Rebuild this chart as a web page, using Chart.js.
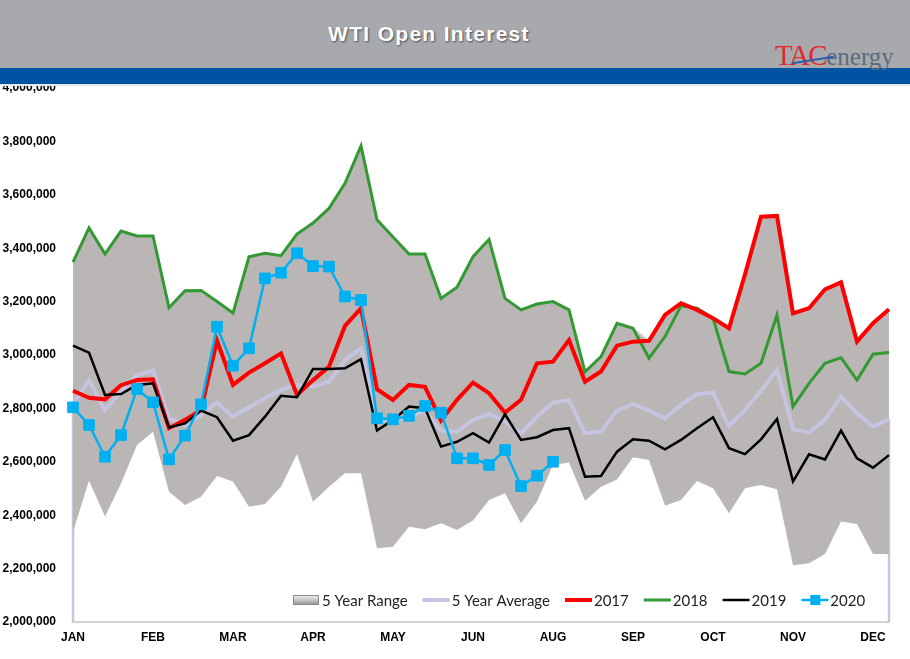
<!DOCTYPE html>
<html>
<head>
<meta charset="utf-8">
<title>WTI Open Interest</title>
<script src="https://cdn.jsdelivr.net/npm/chart.js@4.4.1/dist/chart.umd.min.js"></script>
<style>
    html, body { margin: 0; padding: 0; background: #fff; }
    #wrap { position: relative; width: 910px; height: 659px; overflow: hidden; }
    #chartBox { position: absolute; left: 0; top: 0; width: 910px; height: 659px; }
    .band { position: absolute; left: 0; top: 0; width: 910px; height: 68px; background: #a8a9ad; }
    .blue { position: absolute; left: 0; top: 68px; width: 910px; height: 16px; background: #0053a3; border-bottom: 2px solid #e3e6ec; }
    .title { position: absolute; left: 0; width: 858px; top: 22px; text-align: center; color: #fff;
             font: bold 21px "Liberation Sans", Arial, sans-serif; letter-spacing: 1.3px;
             text-shadow: 1px 1px 2px rgba(0,0,0,0.55); }
    .logo { position: absolute; left: 775px; top: 41px; white-space: nowrap; font-family: "Liberation Serif", "DejaVu Serif", serif; line-height: 28px; }
    .logo .tac { color: #e0282e; font-size: 29px; letter-spacing: -1.5px; }
    .logo .en { color: #5b6b7c; font-size: 25px; }
    .swoosh { position: absolute; left: 792px; top: 59px; width: 42px; height: 0; border-top: 2px solid #2d5fae; transform: rotate(-9deg); }
</style>
</head>
<body>
<div id="wrap">
    <div id="chartBox"><canvas id="oiChart"></canvas></div>
    <div class="band"></div>
    <div class="blue"></div>
    <div class="title">WTI Open Interest</div>
    <div class="logo"><span class="tac">TAC</span><span class="en">energy</span></div>
    <div class="swoosh"></div>
</div>
<script>
// weekly points, one per week of the year
const weekLabels = Array.from({ length: 52 }, (_, i) => 'Wk ' + (i + 1));
// month names shown under every 5th week (as printed on the original)
const monthTicks = ['JAN', 'FEB', 'MAR', 'APR', 'MAY', 'JUN', 'AUG', 'SEP', 'OCT', 'NOV', 'DEC'];

const rangeLow = [2338000, 2529000, 2395000, 2519000, 2663000, 2713000, 2488000, 2438000, 2469000, 2547000,
    2526000, 2432000, 2442000, 2507000, 2629000, 2450000, 2507000, 2557000, 2557000, 2276000,
    2282000, 2357000, 2347000, 2370000, 2345000, 2380000, 2457000, 2482000, 2370000, 2451000,
    2588000, 2597000, 2454000, 2507000, 2534000, 2617000, 2607000, 2435000, 2457000, 2528000,
    2501000, 2407000, 2501000, 2513000, 2497000, 2213000, 2220000, 2255000, 2376000, 2367000,
    2255000, 2255000];
const rangeHigh = [3348000, 3476000, 3378000, 3464000, 3446000, 3446000, 3177000, 3241000, 3242000, 3200000,
    3157000, 3368000, 3381000, 3372000, 3453000, 3494000, 3549000, 3643000, 3783000, 3506000,
    3442000, 3378000, 3378000, 3212000, 3254000, 3368000, 3433000, 3212000, 3169000, 3191000,
    3200000, 3169000, 2937000, 2994000, 3119000, 3100000, 3053000, 3150000, 3194000, 3175000,
    3138000, 3100000, 3302000, 3518000, 3521000, 3156000, 3175000, 3246000, 3272000, 3050000,
    3119000, 3171000];
const avg5y = [2815000, 2906000, 2794000, 2863000, 2925000, 2941000, 2763000, 2738000, 2775000, 2822000,
    2769000, 2804000, 2838000, 2869000, 2888000, 2881000, 2900000, 2981000, 3025000, 2763000,
    2750000, 2772000, 2788000, 2717000, 2713000, 2757000, 2779000, 2750000, 2707000, 2769000,
    2822000, 2832000, 2707000, 2713000, 2792000, 2817000, 2792000, 2763000, 2813000, 2854000,
    2859000, 2734000, 2794000, 2866000, 2944000, 2722000, 2709000, 2757000, 2844000, 2782000,
    2732000, 2760000];
const oi2017 = [2866000, 2840000, 2834000, 2887000, 2906000, 2909000, 2726000, 2757000, 2794000, 3054000,
    2888000, 2934000, 2969000, 3006000, 2850000, 2906000, 2956000, 3109000, 3175000, 2872000,
    2832000, 2888000, 2881000, 2755000, 2832000, 2897000, 2857000, 2784000, 2832000, 2969000,
    2975000, 3056000, 2900000, 2938000, 3035000, 3050000, 3053000, 3150000, 3194000, 3169000,
    3138000, 3100000, 3302000, 3518000, 3521000, 3156000, 3175000, 3246000, 3272000, 3050000,
    3119000, 3171000];
const oi2018 = [3348000, 3476000, 3378000, 3464000, 3446000, 3446000, 3177000, 3241000, 3242000, 3200000,
    3157000, 3368000, 3381000, 3372000, 3453000, 3494000, 3549000, 3643000, 3783000, 3506000,
    3442000, 3378000, 3378000, 3212000, 3254000, 3368000, 3433000, 3212000, 3169000, 3191000,
    3200000, 3169000, 2937000, 2994000, 3119000, 3100000, 2988000, 3069000, 3184000, 3175000,
    3138000, 2938000, 2929000, 2969000, 3150000, 2807000, 2894000, 2969000, 2990000, 2906000,
    3003000, 3009000];
const oi2019 = [3035000, 3009000, 2850000, 2854000, 2888000, 2894000, 2729000, 2744000, 2792000, 2767000,
    2679000, 2700000, 2769000, 2847000, 2842000, 2948000, 2948000, 2950000, 2984000, 2717000,
    2757000, 2807000, 2801000, 2657000, 2675000, 2707000, 2672000, 2778000, 2682000, 2692000,
    2719000, 2726000, 2544000, 2547000, 2638000, 2684000, 2679000, 2647000, 2682000, 2726000,
    2767000, 2651000, 2629000, 2684000, 2760000, 2526000, 2628000, 2609000, 2717000, 2613000,
    2578000, 2625000];
const oi2020 = [2804000, 2738000, 2619000, 2700000, 2872000, 2823000, 2609000, 2698000, 2815000, 3106000,
    2960000, 3025000, 3287000, 3308000, 3381000, 3333000, 3331000, 3219000, 3206000, 2763000,
    2759000, 2772000, 2809000, 2784000, 2613000, 2613000, 2588000, 2644000, 2509000, 2548000,
    2600000];

const axisFont = { family: '"Liberation Sans", Arial, sans-serif', size: 12, weight: 'bold' };

// thin lavender drop lines at both ends of the average series, like the excel area edges
const edgeLines = {
    id: 'edgeLines',
    beforeDatasetsDraw(chart) {
        const meta = chart.getDatasetMeta(2);
        const pts = meta.data;
        if (!pts.length) return;
        const ctx = chart.ctx;
        const bottom = chart.chartArea.bottom;
        ctx.save();
        ctx.strokeStyle = '#c6c6de';
        ctx.lineWidth = 2.5;
        [pts[0], pts[pts.length - 1]].forEach(p => {
            ctx.beginPath();
            ctx.moveTo(p.x, p.y);
            ctx.lineTo(p.x, bottom);
            ctx.stroke();
        });
        ctx.restore();
    }
};

// legend drawn inside the plot, just above the x axis
const insideLegend = {
    id: 'insideLegend',
    afterDraw(chart) {
        const ctx = chart.ctx;
        const items = [1, 2, 3, 4, 5, 6].map(i => chart.data.datasets[i]);
        const y = chart.chartArea.bottom - 22;
        let x = 293;
        ctx.save();
        ctx.font = '15px Lato, "Open Sans", sans-serif';
        ctx.textBaseline = 'middle';
        items.forEach(ds => {
            if (ds.isRange) {
                const g = ctx.createLinearGradient(0, y - 5, 0, y + 5);
                g.addColorStop(0, '#f2f2f2');
                g.addColorStop(0.5, '#c8c6c6');
                g.addColorStop(1, '#8e8c8c');
                ctx.fillStyle = g;
                ctx.fillRect(x, y - 5, 26, 10);
                ctx.strokeStyle = '#8a8a8a';
                ctx.lineWidth = 1;
                ctx.strokeRect(x + 0.5, y - 4.5, 25, 9);
            } else {
                ctx.strokeStyle = ds.borderColor;
                ctx.lineWidth = ds.borderWidth;
                ctx.beginPath();
                ctx.moveTo(x, y);
                ctx.lineTo(x + 27, y);
                ctx.stroke();
                if (ds.pointStyle === 'rect') {
                    ctx.fillStyle = ds.pointBackgroundColor;
                    ctx.fillRect(x + 9, y - 5, 10, 10);
                }
            }
            const tx = x + 29;
            ctx.fillStyle = '#222';
            ctx.fillText(ds.label, tx, y + 1);
            x = tx + ctx.measureText(ds.label).width + 15;
        });
        ctx.restore();
    }
};

new Chart(document.getElementById('oiChart'), {
    type: 'line',
    data: {
        labels: weekLabels,
        datasets: [
            {
                label: 'Range low',
                data: rangeLow,
                borderWidth: 0,
                borderColor: 'rgba(0,0,0,0)',
                pointRadius: 0,
                fill: false,
                order: 7
            },
            {
                label: '5 Year Range',
                isRange: true,
                data: rangeHigh,
                borderWidth: 2,
                borderColor: '#d9d6d5',
                backgroundColor: '#bab6b5',
                pointRadius: 0,
                fill: { target: 0 },
                order: 6
            },
            {
                label: '5 Year Average',
                data: avg5y,
                borderColor: '#c4c4e0',
                borderWidth: 4,
                pointRadius: 0,
                fill: false,
                order: 5
            },
            {
                label: '2017',
                data: oi2017,
                borderColor: '#ff0000',
                borderWidth: 4,
                pointRadius: 0,
                fill: false,
                order: 3
            },
            {
                label: '2018',
                data: oi2018,
                borderColor: '#339933',
                borderWidth: 3,
                pointRadius: 0,
                fill: false,
                order: 4
            },
            {
                label: '2019',
                data: oi2019,
                borderColor: '#000000',
                borderWidth: 2.5,
                pointRadius: 0,
                fill: false,
                order: 2
            },
            {
                label: '2020',
                data: oi2020,
                borderColor: '#00b0f0',
                borderWidth: 2.5,
                pointStyle: 'rect',
                pointRadius: 7.5,
                pointBorderWidth: 1,
                pointBackgroundColor: '#00b0f0',
                pointBorderColor: '#00b0f0',
                fill: false,
                order: 1
            }
        ]
    },
    options: {
        responsive: true,
        maintainAspectRatio: false,
        animation: false,
        elements: { line: { tension: 0 } },
        layout: { padding: { top: 88, right: 21, left: 0, bottom: 0 } },
        plugins: {
            legend: { display: false },
            tooltip: { enabled: false }
        },
        scales: {
            x: {
                grid: { display: false },
                border: { display: true, color: '#d3d3d3', width: 2 },
                ticks: {
                    autoSkip: false,
                    maxRotation: 0,
                    minRotation: 0,
                    padding: 0,
                    color: '#000',
                    font: axisFont,
                    callback: (v, i) => (i % 5 === 0 ? monthTicks[i / 5] : '')
                },
                afterFit: s => { s.height = 37; }
            },
            y: {
                min: 2000000,
                max: 4000000,
                grid: { display: false },
                border: { display: false },
                ticks: {
                    stepSize: 200000,
                    padding: 9,
                    color: '#000',
                    font: axisFont,
                    callback: v => v.toLocaleString('en-US')
                },
                afterFit: s => { s.width = 73; }
            }
        }
    },
    plugins: [edgeLines, insideLegend]
});
</script>
</body>
</html>
